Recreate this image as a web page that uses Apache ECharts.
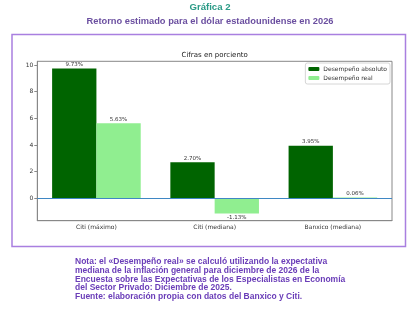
<!DOCTYPE html>
<html>
<head>
<meta charset="utf-8">
<script src="https://cdn.jsdelivr.net/npm/echarts@6/dist/echarts.min.js"></script>
<style>
  html, body { margin: 0; padding: 0; background: #fff; }
  #chart { width: 420px; height: 312px; }
</style>
</head>
<body>
<div id="chart"></div>
<script>
// datos
const categories = ['Citi (máximo)', 'Citi (mediana)', 'Banxico (mediana)'];
const absoluto = [9.73, 2.70, 3.95];
const real = [5.63, -1.13, 0.06];
const seriesNames = ['Desempeño absoluto', 'Desempeño real'];
const yTicks = [0, 2, 4, 6, 8, 10];
const notaLines = [
  'Nota: el «Desempeño real» se calculó utilizando la expectativa',
  'mediana de la inflación general para diciembre de 2026 de la',
  'Encuesta sobre las Expectativas de los Especialistas en Economía',
  'del Sector Privado: Diciembre de 2025.',
  'Fuente: elaboración propia con datos del Banxico y Citi.'
];

const chartFont = 'DejaVu Sans';

// etiqueta arriba o abajo según el signo
const withLabels = (arr) => arr.map(v => ({
  value: v,
  label: { position: v < 0 ? 'bottom' : 'top' }
}));

const barLabel = {
  show: true,
  distance: 1,
  fontFamily: chartFont,
  fontSize: 5.5,
  color: '#333',
  formatter: (p) => p.value.toFixed(2) + '%'
};

const chart = echarts.init(document.getElementById('chart'), null, { renderer: 'canvas' });
chart.setOption({
  animation: false,
  backgroundColor: '#fff',
  title: [
    {
      text: 'Gráfica 2',
      left: 'center',
      top: 2.5,
      padding: 0,
      textStyle: { fontFamily: 'Liberation Sans', fontSize: 9.6, fontWeight: 'bold', color: '#2a9a86' }
    },
    {
      text: 'Retorno estimado para el dólar estadounidense en 2026',
      left: 'center',
      top: 16.5,
      padding: 0,
      textStyle: { fontFamily: 'Liberation Sans', fontSize: 9.3, fontWeight: 'bold', color: '#6b4fa0' }
    },
    {
      text: 'Cifras en porciento',
      left: 214.7,
      textAlign: 'center',
      top: 52,
      padding: 0,
      textStyle: { fontFamily: chartFont, fontSize: 7, fontWeight: 'normal', color: '#222' }
    }
  ],
  graphic: [
    {
      type: 'rect',
      shape: { x: 12, y: 34.5, width: 393.5, height: 212 },
      style: { fill: 'none', stroke: '#a97fe0', lineWidth: 1.5 },
      silent: true
    },
    {
      type: 'text',
      left: 75,
      top: 257.5,
      style: {
        text: notaLines.join('\n'),
        font: 'bold 8.5px "Liberation Sans"',
        lineHeight: 8.6,
        fill: '#6a3db8'
      }
    }
  ],
  legend: {
    data: seriesNames,
    right: 30,
    top: 63,
    orient: 'vertical',
    itemWidth: 11,
    itemHeight: 4,
    itemGap: 3,
    padding: [3, 3, 3, 3],
    borderColor: '#ccc',
    borderWidth: 0.8,
    borderRadius: 2,
    backgroundColor: '#fff',
    textStyle: { fontFamily: chartFont, fontSize: 6, color: '#333', padding: [0, 0, 0, -1] }
  },
  grid: {
    left: 37.3,
    right: 28,
    top: 61.3,
    bottom: 91.3,
    show: true,
    borderColor: '#888',
    borderWidth: 1,
    backgroundColor: 'transparent'
  },
  xAxis: {
    type: 'category',
    data: categories,
    axisLine: { onZero: false, lineStyle: { color: '#888', width: 1 } },
    axisTick: { alignWithLabel: true, length: 3, lineStyle: { color: '#888' } },
    axisLabel: { fontFamily: chartFont, fontSize: 6, color: '#333', margin: 4 },
    splitLine: { show: false }
  },
  yAxis: {
    type: 'value',
    min: -1.673,
    max: 10.273,
    axisLine: { show: true, lineStyle: { color: '#888', width: 1 } },
    axisTick: { show: true, length: 3, customValues: yTicks, lineStyle: { color: '#888' } },
    axisLabel: {
      fontFamily: chartFont, fontSize: 6, color: '#333', margin: 4,
      customValues: yTicks
    },
    splitLine: { show: false }
  },
  series: [
    {
      name: seriesNames[0],
      type: 'bar',
      data: withLabels(absoluto),
      barWidth: 44.3,
      barGap: '0%',
      itemStyle: { color: '#006400' },
      label: barLabel,
      markLine: {
        silent: true,
        symbol: 'none',
        label: { show: false },
        lineStyle: { color: '#3f87c4', width: 1, type: 'solid' },
        data: [{ yAxis: 0 }]
      }
    },
    {
      name: seriesNames[1],
      type: 'bar',
      data: withLabels(real),
      barWidth: 44.3,
      barGap: '0%',
      itemStyle: { color: '#90ee90' },
      label: barLabel
    }
  ]
});
</script>
</body>
</html>
